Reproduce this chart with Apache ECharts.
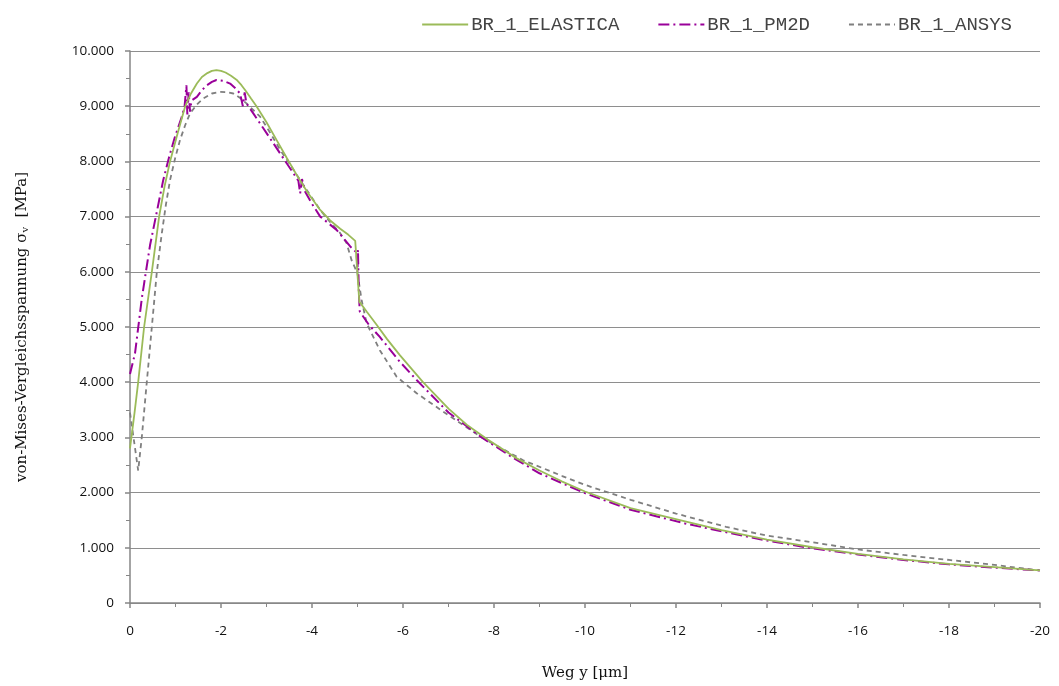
<!DOCTYPE html>
<html>
<head>
<meta charset="utf-8">
<script src="https://cdn.jsdelivr.net/npm/echarts@6/dist/echarts.min.js"></script>
<style>
  html, body { margin: 0; padding: 0; background: #ffffff; }
  #chart { width: 1059px; height: 686px; }
</style>
</head>
<body>
<div id="chart"></div>
<script>
// Displacement y [µm] and von Mises stress [MPa] for the three solvers
const elasticaX = [0, -0.1, -0.18, -0.31, -0.48, -0.64, -0.76, -0.88, -1.05, -1.21, -1.34, -1.47, -1.58, -1.70, -1.80, -1.90, -2.00, -2.10, -2.22, -2.34, -2.45, -2.55, -2.66, -2.78, -3.0, -3.22, -3.44, -3.66, -3.9, -4.18, -4.4, -4.62, -4.8, -4.95, -5.04, -5.2, -5.42, -5.65, -5.93, -6.43, -7.0, -7.4, -7.86, -8.5, -9.0, -9.5, -10.0, -11.0, -12.2, -13.0, -14.0, -15.0, -16.0, -17.0, -18.0, -19.0, -20.0];
const elasticaY = [2800, 3450, 4000, 5000, 6000, 7000, 7550, 8000, 8520, 8990, 9230, 9410, 9530, 9600, 9640, 9655, 9640, 9610, 9550, 9480, 9380, 9270, 9140, 9000, 8710, 8390, 8070, 7760, 7440, 7120, 6930, 6780, 6670, 6560, 5460, 5280, 5040, 4780, 4490, 4010, 3520, 3230, 2960, 2620, 2400, 2200, 2020, 1720, 1480, 1320, 1150, 1010, 890, 790, 710, 650, 590];

const pm2dX = [0, -0.11, -0.26, -0.44, -0.60, -0.73, -0.86, -0.99, -1.14, -1.20, -1.24, -1.26, -1.29, -1.32, -1.35, -1.47, -1.58, -1.69, -1.80, -1.90, -2.05, -2.20, -2.31, -2.42, -2.48, -2.52, -2.56, -2.71, -2.93, -3.15, -3.44, -3.70, -3.74, -3.78, -3.85, -4.0, -4.18, -4.54, -4.84, -4.98, -5.00, -5.01, -5.03, -5.05, -5.25, -5.49, -5.93, -6.30, -7.0, -7.73, -8.4, -9.0, -10.0, -11.0, -12.2, -13.0, -14.0, -15.0, -16.0, -17.0, -18.0, -19.0, -20.0];
const pm2dY = [4150, 4520, 5520, 6480, 7130, 7660, 8080, 8450, 8810, 9000, 9380, 8850, 9250, 8900, 9100, 9170, 9290, 9380, 9440, 9475, 9460, 9410, 9330, 9230, 9000, 9250, 9050, 8870, 8600, 8330, 7970, 7650, 7420, 7680, 7450, 7230, 7000, 6760, 6460, 6350, 6000, 6400, 5610, 5280, 5040, 4820, 4370, 4040, 3450, 3000, 2640, 2350, 1990, 1690, 1440, 1300, 1130, 990, 880, 780, 700, 640, 590];

const ansysX = [0, -0.18, -0.26, -0.37, -0.48, -0.59, -0.70, -0.79, -0.88, -0.99, -1.10, -1.21, -1.32, -1.47, -1.61, -1.80, -1.98, -2.12, -2.27, -2.42, -2.56, -2.86, -3.08, -3.30, -3.52, -3.74, -3.96, -4.18, -4.40, -4.62, -4.76, -4.87, -5.00, -5.09, -5.20, -5.49, -5.86, -6.3, -7.0, -7.73, -8.63, -9.5, -10.0, -11.0, -12.0, -13.1, -14.0, -15.0, -16.0, -17.0, -18.0, -19.0, -20.0];
const ansysY = [3450, 2400, 3010, 4010, 5000, 6000, 6700, 7220, 7660, 8050, 8390, 8650, 8870, 9030, 9140, 9230, 9260, 9255, 9230, 9150, 9050, 8810, 8520, 8210, 7940, 7660, 7390, 7120, 6900, 6700, 6520, 6210, 5970, 5490, 5070, 4580, 4100, 3800, 3400, 3000, 2590, 2300, 2140, 1870, 1620, 1380, 1220, 1100, 970, 870, 780, 690, 590];

const seriesNames = ['BR_1_ELASTICA', 'BR_1_PM2D', 'BR_1_ANSYS'];

const pairs = (xs, ys) => xs.map((x, i) => [x, ys[i]]);

const axisGrey = '#868686';
const gridGrey = '#8e8e8e';
const labelFont = '"Open Sans", "Noto Sans", sans-serif';
const titleFont = '"DejaVu Serif", "Liberation Serif", serif';

const chart = echarts.init(document.getElementById('chart'), null, { renderer: 'canvas' });

chart.setOption({
  animation: false,
  backgroundColor: '#ffffff',
  grid: { left: 130, right: 19, top: 51, bottom: 83, containLabel: false },
  legend: {
    top: 10,
    right: 42,
    itemWidth: 46,
    itemHeight: 14,
    itemGap: 38,
    itemStyle: { opacity: 0 },
    textStyle: { fontFamily: '"Liberation Mono", "DejaVu Sans Mono", monospace', fontSize: 19, color: '#444', padding: [0, 0, 0, -2] },
    data: seriesNames
  },
  xAxis: {
    type: 'value',
    min: -20,
    max: 0,
    interval: 2,
    inverse: true,
    name: 'Weg y [μm]',
    nameLocation: 'middle',
    nameGap: 63,
    nameTextStyle: { fontFamily: titleFont, fontSize: 15, color: '#111' },
    axisLine: { show: true, onZero: false, lineStyle: { color: axisGrey, width: 1.5 } },
    axisTick: { show: true, length: 5, lineStyle: { color: axisGrey, width: 1.5 } },
    minorTick: { show: true, splitNumber: 2, length: 4, lineStyle: { color: axisGrey, width: 1 } },
    splitLine: { show: false },
    axisLabel: { margin: 21, fontFamily: labelFont, fontSize: 13.5, color: '#111' }
  },
  yAxis: {
    type: 'value',
    min: 0,
    max: 10000,
    interval: 1000,
    name: '{n|von-Mises-Vergleichsspannung σ}{s|v}{n|  [MPa]}',
    nameLocation: 'middle',
    nameGap: 100,
    nameRotate: 90,
    nameTextStyle: {
      rich: {
        n: { fontFamily: titleFont, fontSize: 15, color: '#111' },
        s: { fontFamily: titleFont, fontSize: 10, color: '#111', padding: [6, 0, 0, 0] }
      }
    },
    axisLine: { show: true, lineStyle: { color: axisGrey, width: 1.5 } },
    axisTick: { show: true, length: 5, lineStyle: { color: axisGrey, width: 1.5 } },
    minorTick: { show: true, splitNumber: 2, length: 4, lineStyle: { color: axisGrey, width: 1 } },
    splitLine: { show: true, lineStyle: { color: gridGrey, width: 1 } },
    axisLabel: {
      margin: 16,
      fontFamily: labelFont,
      fontSize: 13.5,
      color: '#111',
      formatter: v => (v === 0 ? '0' : (v / 1000).toFixed(3))
    }
  },
  series: [
    {
      name: seriesNames[0],
      type: 'line',
      data: pairs(elasticaX, elasticaY),
      showSymbol: false,
      symbol: 'none',
      lineStyle: { color: '#9bbb59', width: 1.8, type: 'solid' },
      itemStyle: { color: '#9bbb59' },
      z: 3
    },
    {
      name: seriesNames[1],
      type: 'line',
      data: pairs(pm2dX, pm2dY),
      showSymbol: false,
      symbol: 'none',
      lineStyle: { color: '#990099', width: 2, type: [11, 4, 2, 4] },
      itemStyle: { color: '#990099' },
      z: 2
    },
    {
      name: seriesNames[2],
      type: 'line',
      data: pairs(ansysX, ansysY),
      showSymbol: false,
      symbol: 'none',
      lineStyle: { color: '#7f7f7f', width: 1.8, type: [5, 4] },
      itemStyle: { color: '#7f7f7f' },
      z: 1
    }
  ]
});
</script>
</body>
</html>
